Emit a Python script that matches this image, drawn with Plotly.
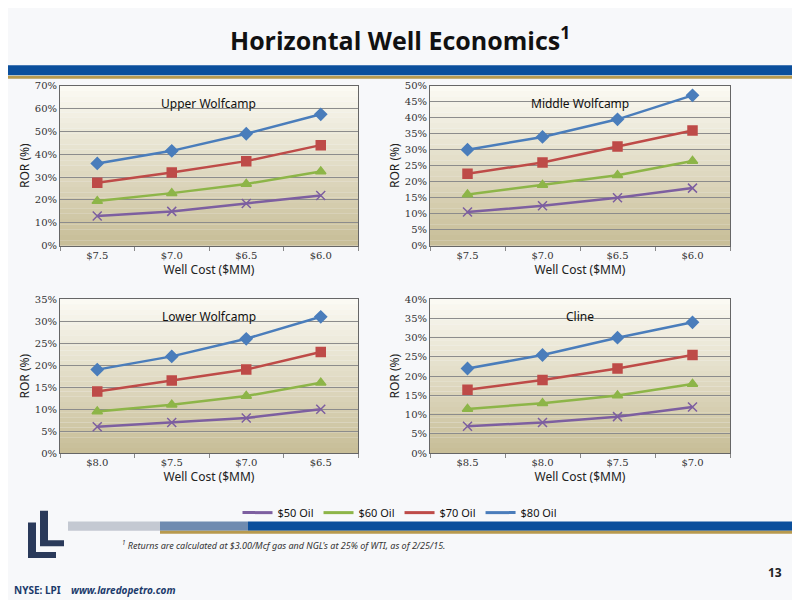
import plotly.graph_objects as go

titles = ["Upper Wolfcamp", "Middle Wolfcamp", "Lower Wolfcamp", "Cline"]
costs = [["$7.5", "$7.0", "$6.5", "$6.0"], ["$7.5", "$7.0", "$6.5", "$6.0"],
         ["$8.0", "$7.5", "$7.0", "$6.5"], ["$8.5", "$8.0", "$7.5", "$7.0"]]
series = ["$50 Oil", "$60 Oil", "$70 Oil", "$80 Oil"]
oil50 = [[13, 15, 18.5, 22], [10.5, 12.5, 15, 18], [6, 7, 8, 10], [7, 8, 9.5, 12]]
oil60 = [[19.5, 23, 27, 32.5], [16, 19, 22, 26.5], [9.5, 11, 13, 16], [11.5, 13, 15, 18]]
oil70 = [[27.5, 32, 37, 44], [22.5, 26, 31, 36], [14, 16.5, 19, 23], [16.5, 19, 22, 25.5]]
oil80 = [[36, 41.5, 49, 57.5], [30, 34, 39.5, 47], [19, 22, 26, 31], [22, 25.5, 30, 34]]
ymax = [70, 50, 35, 40]
ystep = [10, 5, 5, 5]

colors = ["#7d5fa0", "#8db548", "#be4b48", "#4a7dbb"]
symbols = ["x-thin-open", "triangle-up", "square", "diamond"]
data = [oil50, oil60, oil70, oil80]

xd = [(0.065, 0.4375), (0.5275, 0.9025), (0.065, 0.4375), (0.5275, 0.9025)]
yd = [(0.606, 0.878), (0.606, 0.878), (0.253, 0.515), (0.253, 0.515)]

fig = go.Figure()
shapes = []
annotations = []
for i in range(4):
    ax = "" if i == 0 else str(i + 1)
    for s in range(4):
        fig.add_trace(go.Scatter(
            x=costs[i], y=data[s][i], mode="lines+markers", xaxis="x" + ax, yaxis="y" + ax,
            line=dict(color=colors[s], width=2.5),
            marker=dict(symbol=symbols[s], size=9, color=colors[s],
                        line=dict(color=colors[s], width=1.5)),
            showlegend=False, hovertemplate="%{y}%<extra>" + series[s] + "</extra>"))
    n = 30
    y0, y1 = yd[i]
    for k in range(n):
        t = k / (n - 1)
        r = int(251 + (200 - 251) * t); g = int(250 + (190 - 250) * t); b = int(243 + (152 - 243) * t)
        shapes.append(dict(type="rect", xref="paper", yref="paper", layer="below",
                           x0=xd[i][0], x1=xd[i][1],
                           y1=y1 - (y1 - y0) * k / n, y0=y1 - (y1 - y0) * (k + 1) / n,
                           fillcolor=f"rgb({r},{g},{b})", line_width=0))
    fig.layout["xaxis" + ax] = dict(domain=xd[i], anchor="y" + ax, type="category",
        range=[-0.5, 3.5], tickson="boundaries", ticks="outside", ticklen=4, tickcolor="#888",
        showline=True, linecolor="#666", mirror=True, showgrid=False,
        tickfont=dict(family="DejaVu Serif", size=10, color="#333"),
        title=dict(text="Well Cost ($MM)", font=dict(family="Noto Sans", size=12, color="#222"), standoff=4))
    fig.layout["yaxis" + ax] = dict(domain=yd[i], anchor="x" + ax, range=[0, ymax[i]],
        dtick=ystep[i], ticksuffix="%", showline=True, linecolor="#666", mirror=True,
        gridcolor="#8c8c8c", gridwidth=1, zeroline=False,
        tickfont=dict(family="DejaVu Serif", size=10, color="#333"),
        title=dict(text="ROR (%)", font=dict(family="Noto Sans", size=12, color="#222"), standoff=2))
    annotations.append(dict(text=titles[i], xref="paper", yref="paper",
        x=(xd[i][0] + xd[i][1]) / 2, xanchor="center", y=yd[i][1] - 0.012, yanchor="top", showarrow=False,
        font=dict(family="Noto Sans", size=12, color="#111")))

for s in range(4):
    fig.add_trace(go.Scatter(x=[None], y=[None], mode="lines", name=series[s],
                             line=dict(color=colors[s], width=3)))

shapes += [
    dict(type="rect", xref="paper", yref="paper", x0=0, x1=1, y0=0.896, y1=0.913, fillcolor="#0b4f9c", line_width=0),
    dict(type="rect", xref="paper", yref="paper", x0=0, x1=1, y0=0.890, y1=0.895, fillcolor="#b89a4e", line_width=0),
    dict(type="rect", xref="paper", yref="paper", x0=0.30, x1=1, y0=0.121, y1=0.137, fillcolor="#0b4f9c", line_width=0),
    dict(type="rect", xref="paper", yref="paper", x0=0.19, x1=0.30, y0=0.121, y1=0.137, fillcolor="#6f8bb0", line_width=0),
    dict(type="rect", xref="paper", yref="paper", x0=0.075, x1=0.19, y0=0.121, y1=0.137, fillcolor="#c4c9d2", line_width=0),
    dict(type="rect", xref="paper", yref="paper", x0=0.19, x1=1, y0=0.116, y1=0.121, fillcolor="#b89a4e", line_width=0),
    dict(type="path", xref="paper", yref="paper", path="M 0.025 0.075 L 0.025 0.135 L 0.035 0.135 L 0.035 0.085 L 0.06 0.085 L 0.06 0.075 Z", fillcolor="#2a3a5a", line_width=0),
    dict(type="path", xref="paper", yref="paper", path="M 0.04 0.095 L 0.04 0.155 L 0.05 0.155 L 0.05 0.105 L 0.07 0.105 L 0.07 0.095 Z", fillcolor="#2a3a5a", line_width=0),
]
annotations += [
    dict(text="<b>Horizontal Well Economics<sup>1</sup></b>", xref="paper", yref="paper", x=0.49, xanchor="center",
         y=0.959, yanchor="middle", showarrow=False, font=dict(family="Open Sans", size=25, color="#111")),
    dict(text="<i><sup>1</sup> Returns are calculated at $3.00/Mcf gas and NGL's at 25% of WTI, as of 2/25/15.</i>",
         xref="paper", yref="paper", x=0.14, y=0.097, xanchor="left", yanchor="middle", showarrow=False,
         font=dict(family="Liberation Sans Narrow, Noto Sans", size=9, color="#333")),
    dict(text="<b>13</b>", xref="paper", yref="paper", x=0.97, xanchor="right", y=0.05, yanchor="middle", showarrow=False,
         font=dict(family="Noto Sans", size=12, color="#222")),
    dict(text="<b>NYSE: LPI</b>    <b><i>www.laredopetro.com</i></b>", xref="paper", yref="paper", x=0.005, y=0.02,
         xanchor="left", yanchor="middle", showarrow=False, font=dict(family="Noto Sans", size=10, color="#1b3a6b")),
]

fig.update_layout(width=800, height=600, margin=dict(l=0, r=0, t=0, b=0),
    paper_bgcolor="#f7f8fa", plot_bgcolor="rgba(0,0,0,0)", shapes=shapes, annotations=annotations,
    legend=dict(orientation="h", x=0.49, xanchor="center", y=0.152, yanchor="middle",
                font=dict(family="Noto Sans", size=11, color="#111"), bgcolor="rgba(0,0,0,0)"))
fig.write_html("out.html")
